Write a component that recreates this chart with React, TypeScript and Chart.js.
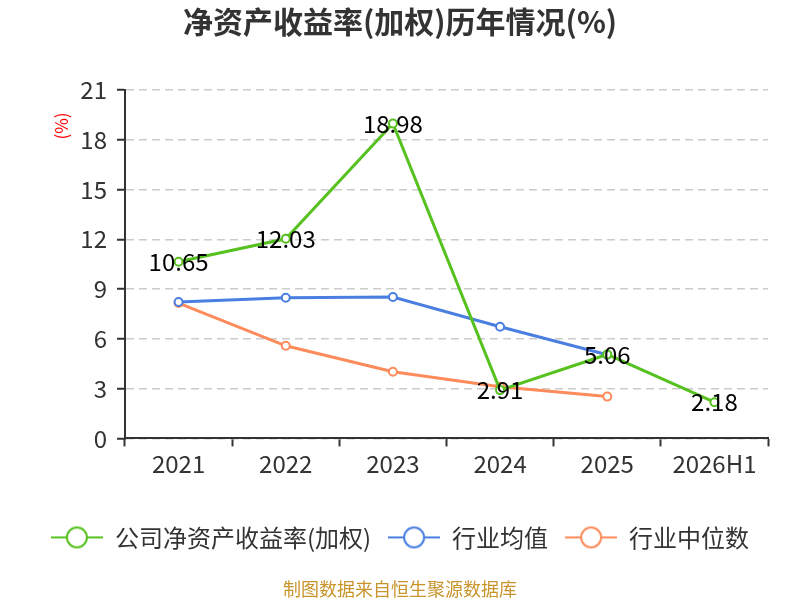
import React, { useRef, useEffect } from 'react';
import { Chart, registerables } from 'chart.js';

Chart.register(...registerables);

const FONT = '"Noto Sans CJK SC", "Noto Sans", sans-serif';

const years = ['2021', '2022', '2023', '2024', '2025', '2026H1'];
const seriesNames = ['公司净资产收益率(加权)', '行业均值', '行业中位数'];
const companyRoe = [10.65, 12.03, 18.98, 2.91, 5.06, 2.18];
const industryAvg = [8.22, 8.48, 8.52, 6.73, 5.04, null];
const industryMedian = [8.16, 5.58, 4.02, 3.12, 2.52, null];
const seriesColors = ['#56c11f', '#4a7fe1', '#fd8b5b'];
const yMin = 0;
const yMax = 21;
const yStep = 3;

// legend marker: a short line with a hollow circle on it
function legendIcon(color: string) {
  const c = document.createElement('canvas');
  c.width = 52;
  c.height = 24;
  const g = c.getContext('2d')!;
  g.strokeStyle = color;
  g.lineWidth = 2;
  g.beginPath();
  g.moveTo(0, 12);
  g.lineTo(52, 12);
  g.stroke();
  g.beginPath();
  g.arc(26, 12, 10, 0, Math.PI * 2);
  g.fillStyle = '#fff';
  g.fill();
  g.stroke();
  return c;
}

const valueLabels = {
  id: 'valueLabels',
  afterDatasetsDraw(chart: any) {
    const meta = chart.getDatasetMeta(0);
    const ctx = chart.ctx;
    ctx.save();
    ctx.font = `24px ${FONT}`;
    ctx.fillStyle = '#000';
    ctx.textAlign = 'center';
    ctx.textBaseline = 'middle';
    meta.data.forEach((pt: any, i: number) => {
      ctx.fillText(companyRoe[i].toFixed(2), pt.x, pt.y);
    });
    ctx.restore();
  },
};

const unitLabel = {
  id: 'unitLabel',
  afterDraw(chart: any) {
    const { ctx, chartArea } = chart;
    ctx.save();
    ctx.translate(chartArea.left - 63, chartArea.top + 36);
    ctx.rotate(-Math.PI / 2);
    ctx.font = `17px ${FONT}`;
    ctx.fillStyle = '#f00';
    ctx.textAlign = 'center';
    ctx.textBaseline = 'middle';
    ctx.fillText('(%)', 0, 0);
    ctx.restore();
  },
};

const App = () => {
  const chartRef = useRef<HTMLCanvasElement>(null);

  useEffect(() => {
    const ctx = chartRef.current?.getContext('2d');
    if (!ctx) return;
    const data = [companyRoe, industryAvg, industryMedian];
    const myChart = new Chart(ctx, {
      type: 'line',
      data: {
        labels: years,
        datasets: data.map((d, i) => ({
          label: seriesNames[i],
          data: d,
          borderColor: seriesColors[i],
          backgroundColor: '#fff',
          borderWidth: 3,
          pointRadius: 4,
          pointBorderWidth: 2,
          pointBackgroundColor: '#fff',
          pointBorderColor: seriesColors[i],
          pointStyle: 'circle',
          tension: 0,
        })),
      },
      options: {
        animation: false,
        responsive: true,
        maintainAspectRatio: false,
        layout: { padding: { left: 32, right: 32, top: 0, bottom: 0 } },
        plugins: {
          title: {
            display: true,
            text: '净资产收益率(加权)历年情况(%)',
            color: '#333',
            font: { family: FONT, size: 30, weight: 'bold' },
            padding: { top: 4, bottom: 50 },
          },
          subtitle: {
            display: true,
            position: 'bottom',
            text: '制图数据来自恒生聚源数据库',
            color: '#c8952c',
            font: { family: FONT, size: 18 },
            padding: { top: 19, bottom: 0 },
          },
          legend: {
            position: 'bottom',
            labels: {
              usePointStyle: true,
              pointStyleWidth: 52,
              generateLabels: (chart: any) =>
                chart.data.datasets.map((ds: any, i: number) => ({
                  text: ds.label,
                  fontColor: '#333',
                  pointStyle: legendIcon(seriesColors[i]),
                  strokeStyle: seriesColors[i],
                  fillStyle: '#fff',
                  lineWidth: 0,
                  hidden: false,
                  datasetIndex: i,
                })),
              color: '#333',
              font: { family: FONT, size: 24 },
              padding: 17,
            },
          },
          tooltip: { enabled: false },
        },
        scales: {
          x: {
            offset: true,
            afterFit: (scale: any) => {
              scale.height = 70;
            },
            grid: {
              display: true,
              drawOnChartArea: false,
              offset: true,
              tickLength: 8,
              tickColor: '#333',
              tickWidth: 2,
            },
            border: { display: true, color: '#333', width: 2 },
            ticks: { color: '#333', font: { family: FONT, size: 24 }, padding: 3 },
          },
          y: {
            min: yMin,
            max: yMax,
            afterFit: (scale: any) => {
              scale.width = 93;
            },
            ticks: {
              stepSize: yStep,
              color: '#333',
              font: { family: FONT, size: 24 },
              padding: 10,
            },
            grid: {
              color: '#ccc',
              lineWidth: 1.5,
              tickLength: 8,
              tickColor: '#333',
              tickWidth: 2,
            },
            border: { display: true, color: '#333', width: 2, dash: [8, 5] },
          },
        },
      },
      plugins: [valueLabels, unitLabel],
    });

    return () => {
      myChart.destroy();
    };
  }, []);

  return (
    <div style={{ position: 'fixed', left: 0, top: 0, width: 800, height: 600, background: '#fff' }}>
      <canvas ref={chartRef}></canvas>
    </div>
  );
};

export default App;
